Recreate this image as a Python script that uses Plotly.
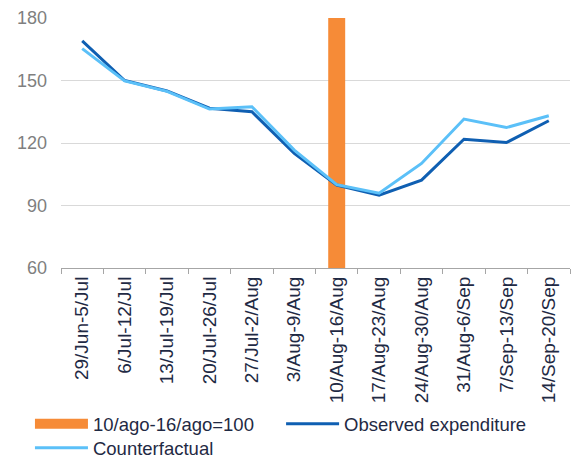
import plotly.graph_objects as go

weeks = ["29/Jun-5/Jul", "6/Jul-12/Jul", "13/Jul-19/Jul", "20/Jul-26/Jul", "27/Jul-2/Aug",
         "3/Aug-9/Aug", "10/Aug-16/Aug", "17/Aug-23/Aug", "24/Aug-30/Aug", "31/Aug-6/Sep",
         "7/Sep-13/Sep", "14/Sep-20/Sep"]
bar_vals = [None, None, None, None, None, None, 180, None, None, None, None, None]
observed = [169, 150, 145, 136.7, 135, 115, 99.8, 95, 102.2, 121.8, 120.2, 130.7]
counterfactual = [165.3, 149.8, 144.8, 136.3, 137.4, 116.6, 100, 95.9, 110.2, 131.5, 127.4, 133.1]
bar_name = "10/ago-16/ago=100"

fig = go.Figure()
fig.add_trace(go.Bar(x=weeks, y=bar_vals, name=bar_name,
                     marker=dict(color="#F68B37", line=dict(width=0)), width=0.4,
                     showlegend=False))
# legend proxy for the bar (wide orange swatch as in the reference)
fig.add_trace(go.Scatter(x=[None], y=[None], name=bar_name, mode="lines",
                         line=dict(color="#F68B37", width=10), legend="legend"))
fig.add_trace(go.Scatter(x=weeks, y=observed, name="Observed expenditure", mode="lines",
                         line=dict(color="#0F5FB2", width=3), legend="legend2"))
fig.add_trace(go.Scatter(x=weeks, y=counterfactual, name="Counterfactual", mode="lines",
                         line=dict(color="#5BC0F8", width=3), legend="legend3"))

leg_common = dict(orientation="h", xref="container", yref="container",
                  xanchor="left", yanchor="top", bgcolor="rgba(0,0,0,0)",
                  font=dict(size=18.5, color="#1F2A44"), itemwidth=53)

fig.update_layout(
    width=576, height=459,
    margin=dict(l=61, r=6, t=18, b=191, autoexpand=False),
    paper_bgcolor="white", plot_bgcolor="white",
    font=dict(family="Liberation Sans, Arial, sans-serif", color="#1F2A44"),
    showlegend=True,
    legend=dict(x=0.052, y=0.117, **leg_common),
    legend2=dict(x=0.488, y=0.117, **leg_common),
    legend3=dict(x=0.052, y=0.065, **leg_common),
    bargap=0.6,
)
fig.update_yaxes(range=[60, 180], tickvals=[60, 90, 120, 150, 180],
                 showgrid=True, gridcolor="#D9D9D9", gridwidth=1,
                 zeroline=False, showline=False, ticklabelstandoff=13,
                 tickfont=dict(size=18, color="#7F7F7F"), ticks="")
fig.update_xaxes(type="category", showline=True, linecolor="#A6A6A6", linewidth=1,
                 ticks="outside", tickson="boundaries", ticklen=5, tickcolor="#A6A6A6",
                 tickangle=-90, tickfont=dict(size=19, color="#1F2A44"), showgrid=False)

fig.write_html("out.html")
